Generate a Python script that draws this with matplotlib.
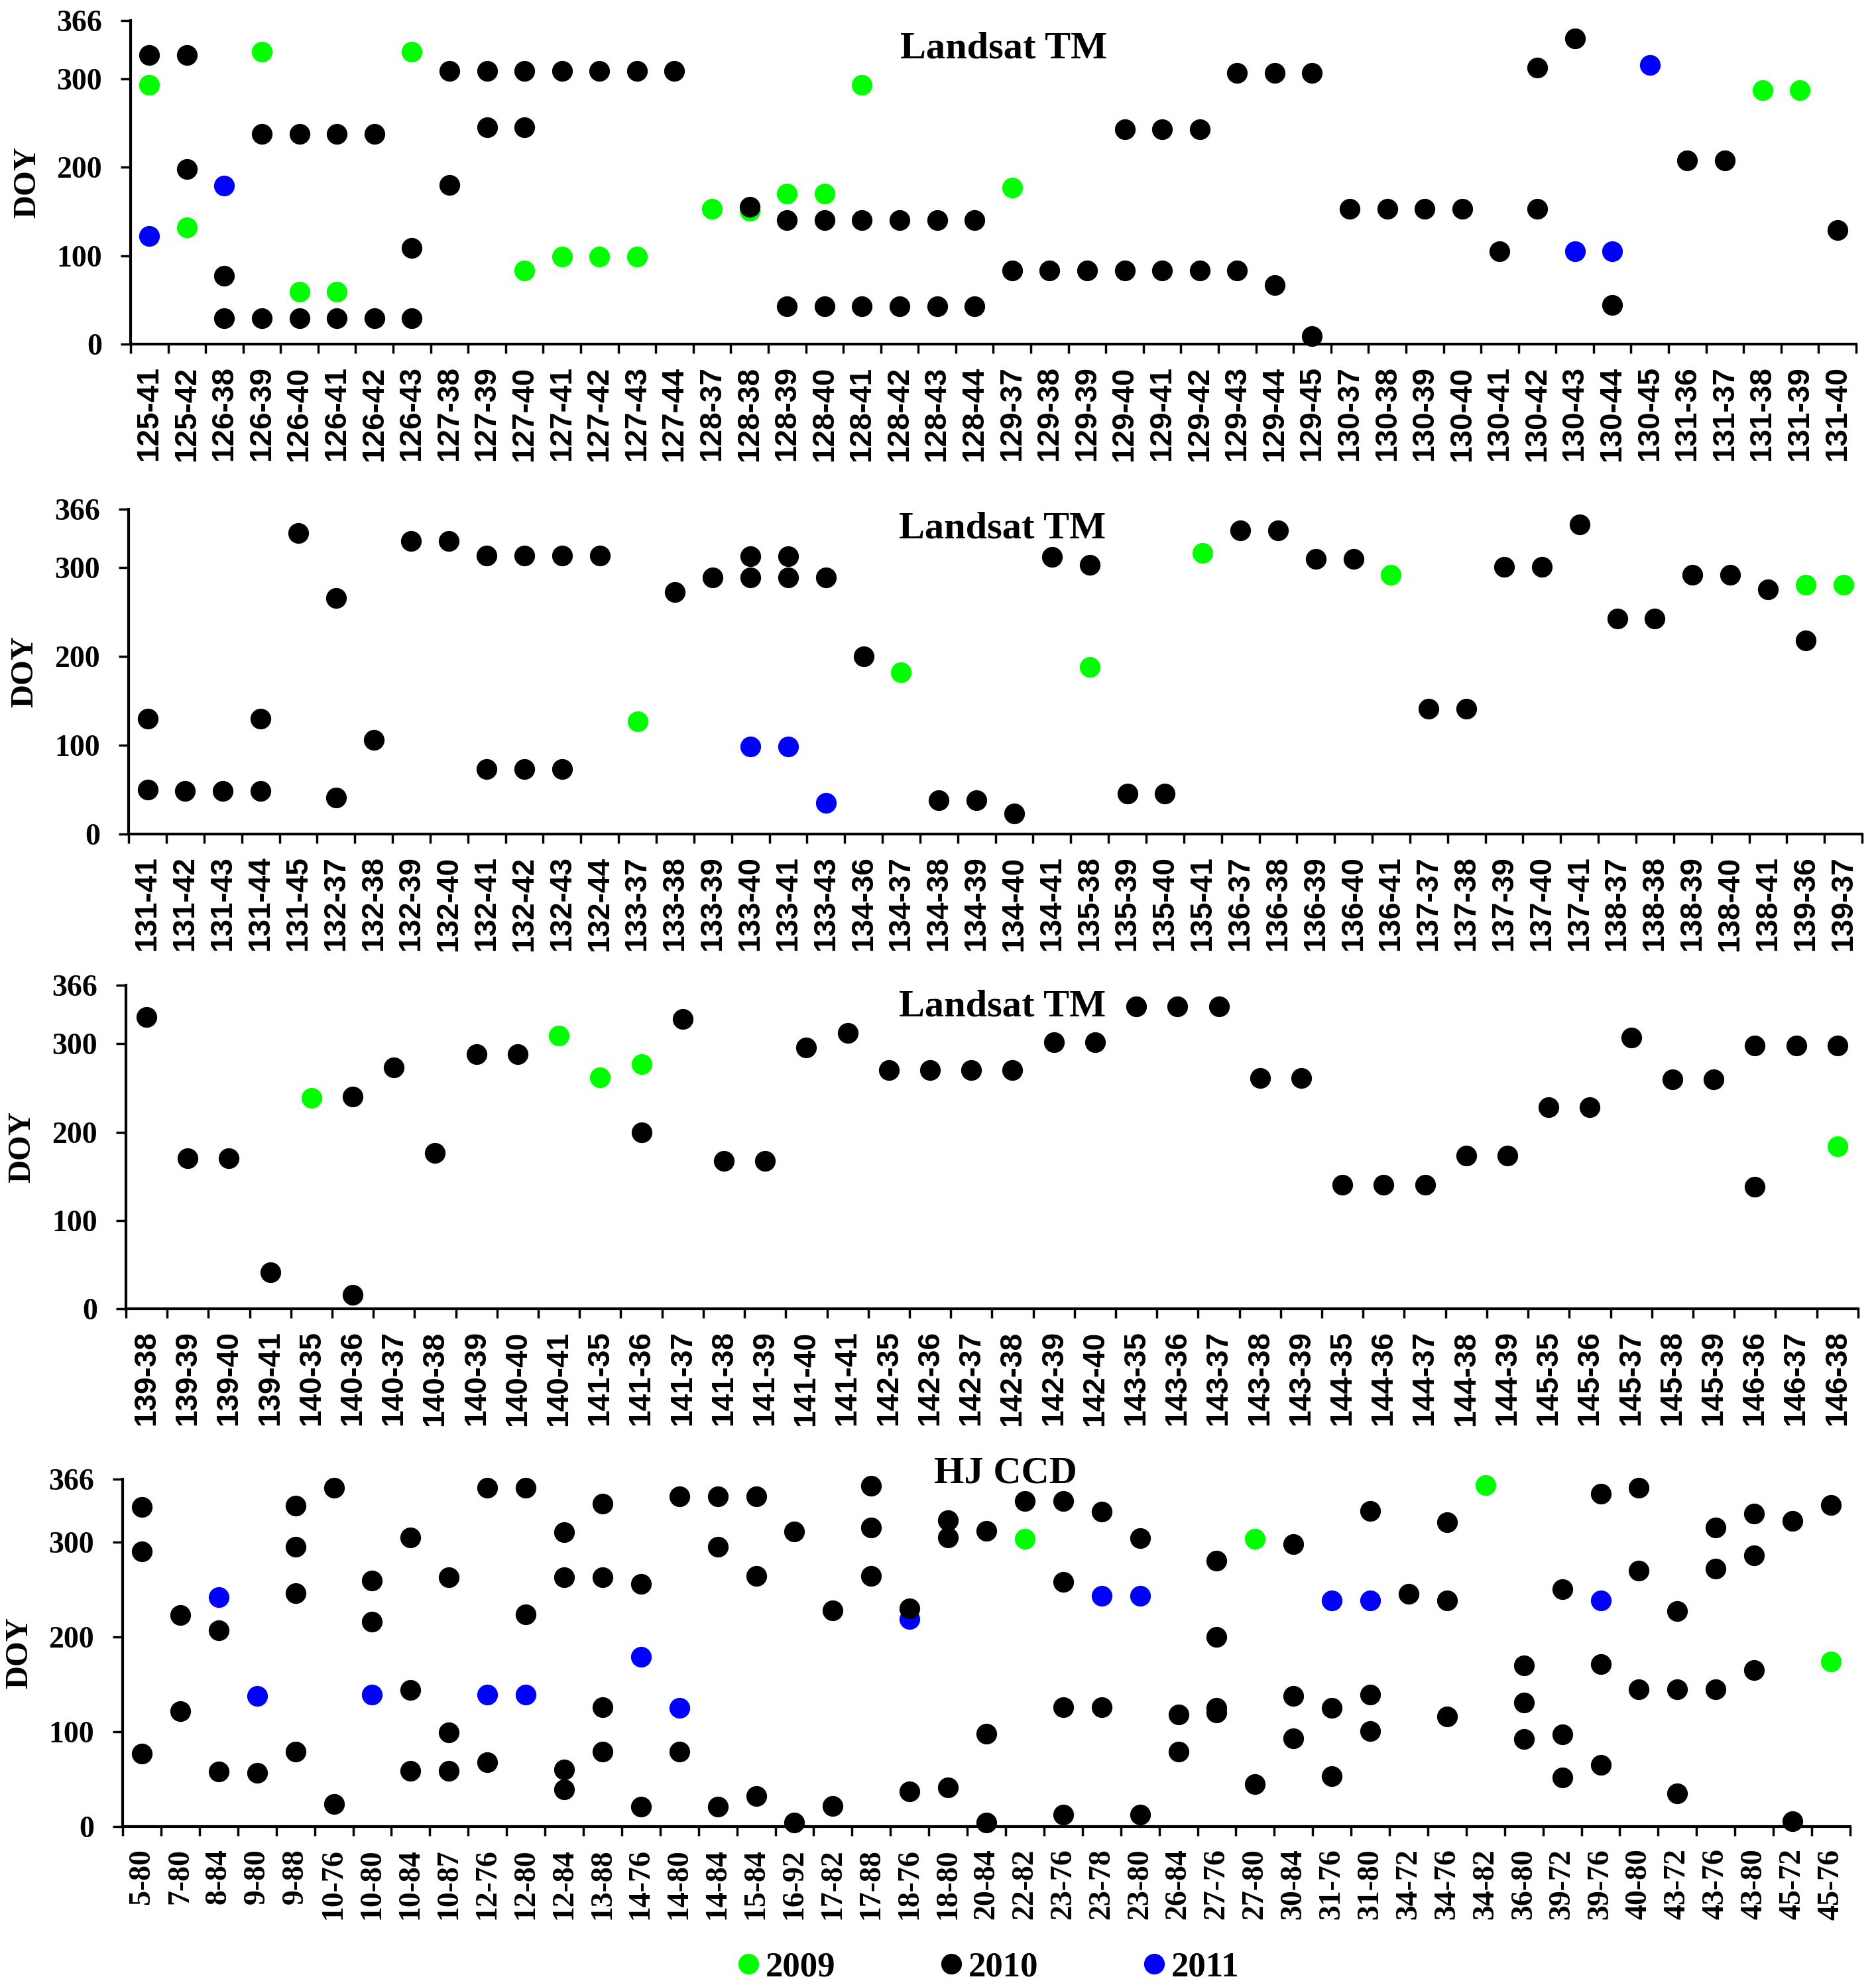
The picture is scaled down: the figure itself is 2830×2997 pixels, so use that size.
import numpy as np
import matplotlib.pyplot as plt
from matplotlib.lines import Line2D

plt.rcParams['font.family'] = ['Liberation Serif', 'DejaVu Serif']
plt.rcParams['font.weight'] = 'bold'

# ---------------- data ----------------
# panel 1: Landsat TM
tm1_cats = ["125-41", "125-42", "126-38", "126-39", "126-40", "126-41", "126-42", "126-43",
            "127-38", "127-39", "127-40", "127-41", "127-42", "127-43", "127-44",
            "128-37", "128-38", "128-39", "128-40", "128-41", "128-42", "128-43", "128-44",
            "129-37", "129-38", "129-39", "129-40", "129-41", "129-42", "129-43", "129-44", "129-45",
            "130-37", "130-38", "130-39", "130-40", "130-41", "130-42", "130-43", "130-44", "130-45",
            "131-36", "131-37", "131-38", "131-39", "131-40"]
tm1_2009 = [("125-41", 293), ("125-42", 132), ("126-39", 331), ("126-40", 59), ("126-41", 59),
            ("126-43", 331), ("127-40", 83), ("127-41", 99), ("127-42", 99), ("127-43", 99),
            ("128-37", 153), ("128-38", 151), ("128-39", 170), ("128-40", 170), ("128-41", 293),
            ("129-37", 177), ("131-38", 287), ("131-39", 287)]
tm1_2010 = [("125-41", 327), ("125-42", 327), ("125-42", 198), ("126-38", 77), ("126-38", 29),
            ("126-39", 238), ("126-39", 29), ("126-40", 238), ("126-40", 29), ("126-41", 238),
            ("126-41", 29), ("126-42", 238), ("126-42", 29), ("126-43", 109), ("126-43", 29),
            ("127-38", 309), ("127-38", 180), ("127-39", 309), ("127-39", 245), ("127-40", 309),
            ("127-40", 245), ("127-41", 309), ("127-42", 309), ("127-43", 309), ("127-44", 309),
            ("128-38", 155), ("128-39", 140), ("128-39", 43), ("128-40", 140), ("128-40", 43),
            ("128-41", 140), ("128-41", 43), ("128-42", 140), ("128-42", 43), ("128-43", 140),
            ("128-43", 43), ("128-44", 140), ("128-44", 43), ("129-37", 83), ("129-38", 83),
            ("129-39", 83), ("129-40", 243), ("129-40", 83), ("129-41", 243), ("129-41", 83),
            ("129-42", 243), ("129-42", 83), ("129-43", 307), ("129-43", 83), ("129-44", 307),
            ("129-44", 67), ("129-45", 307), ("129-45", 9), ("130-37", 153), ("130-38", 153),
            ("130-39", 153), ("130-40", 153), ("130-41", 105), ("130-42", 313), ("130-42", 153),
            ("130-43", 346), ("130-44", 44), ("131-36", 208), ("131-37", 208), ("131-40", 129)]
tm1_2011 = [("125-41", 122), ("126-38", 179), ("130-43", 105), ("130-44", 105), ("130-45", 316)]

# panel 2: Landsat TM
tm2_cats = ["131-41", "131-42", "131-43", "131-44", "131-45",
            "132-37", "132-38", "132-39", "132-40", "132-41", "132-42", "132-43", "132-44",
            "133-37", "133-38", "133-39", "133-40", "133-41", "133-43",
            "134-36", "134-37", "134-38", "134-39", "134-40", "134-41",
            "135-38", "135-39", "135-40", "135-41",
            "136-37", "136-38", "136-39", "136-40", "136-41",
            "137-37", "137-38", "137-39", "137-40", "137-41",
            "138-37", "138-38", "138-39", "138-40", "138-41",
            "139-36", "139-37"]
tm2_2009 = [("133-37", 127), ("134-37", 182), ("135-38", 188), ("135-41", 317), ("136-41", 292),
            ("139-36", 281), ("139-37", 281)]
tm2_2010 = [("131-41", 130), ("131-41", 50), ("131-42", 49), ("131-43", 49), ("131-44", 130),
            ("131-44", 49), ("131-45", 339), ("132-37", 266), ("132-37", 41), ("132-38", 106),
            ("132-39", 330), ("132-40", 330), ("132-41", 314), ("132-41", 73), ("132-42", 314),
            ("132-42", 73), ("132-43", 314), ("132-43", 73), ("132-44", 314), ("133-38", 273),
            ("133-39", 289), ("133-40", 313), ("133-40", 289), ("133-41", 313), ("133-41", 289),
            ("133-43", 289), ("134-36", 200), ("134-38", 38), ("134-39", 38), ("134-40", 23),
            ("134-41", 312), ("135-38", 303), ("135-39", 46), ("135-40", 46), ("136-37", 342),
            ("136-38", 342), ("136-39", 310), ("136-40", 310), ("137-37", 141), ("137-38", 141),
            ("137-39", 301), ("137-40", 301), ("137-41", 349), ("138-37", 243), ("138-38", 243),
            ("138-39", 292), ("138-40", 292), ("138-41", 276), ("139-36", 218)]
tm2_2011 = [("133-40", 99), ("133-41", 99), ("133-43", 35)]

# panel 3: Landsat TM
tm3_cats = ["139-38", "139-39", "139-40", "139-41",
            "140-35", "140-36", "140-37", "140-38", "140-39", "140-40", "140-41",
            "141-35", "141-36", "141-37", "141-38", "141-39", "141-40", "141-41",
            "142-35", "142-36", "142-37", "142-38", "142-39", "142-40",
            "143-35", "143-36", "143-37", "143-38", "143-39",
            "144-35", "144-36", "144-37", "144-38", "144-39",
            "145-35", "145-36", "145-37", "145-38", "145-39",
            "146-36", "146-37", "146-38"]
tm3_2009 = [("140-35", 239), ("140-41", 309), ("141-35", 262), ("141-36", 277), ("146-38", 184)]
tm3_2010 = [("139-38", 330), ("139-39", 170), ("139-40", 170), ("139-41", 41), ("140-36", 240),
            ("140-36", 16), ("140-37", 273), ("140-38", 176), ("140-39", 288), ("140-40", 288),
            ("141-36", 200), ("141-37", 328), ("141-38", 167), ("141-39", 167), ("141-40", 296),
            ("141-41", 312), ("142-35", 270), ("142-36", 270), ("142-37", 270), ("142-38", 270),
            ("142-39", 302), ("142-40", 302), ("143-35", 342), ("143-36", 342), ("143-37", 342),
            ("143-38", 261), ("143-39", 261), ("144-35", 140), ("144-36", 140), ("144-37", 140),
            ("144-38", 173), ("144-39", 173), ("145-35", 228), ("145-36", 228), ("145-37", 307),
            ("145-38", 260), ("145-39", 260), ("146-36", 298), ("146-36", 138), ("146-37", 298),
            ("146-38", 298)]
tm3_2011 = []

# panel 4: HJ CCD
hj_cats = ["5-80", "7-80", "8-84", "9-80", "9-88", "10-76", "10-80", "10-84", "10-87",
           "12-76", "12-80", "12-84", "13-88", "14-76", "14-80", "14-84", "15-84", "16-92",
           "17-82", "17-88", "18-76", "18-80", "20-84", "22-82", "23-76", "23-78", "23-80",
           "26-84", "27-76", "27-80", "30-84", "31-76", "31-80", "34-72", "34-76", "34-82",
           "36-80", "39-72", "39-76", "40-80", "43-72", "43-76", "43-80", "45-72", "45-76"]
hj_2009 = [("22-82", 303), ("27-80", 303), ("34-82", 360), ("45-76", 174)]
hj_2010 = [("5-80", 337), ("5-80", 290), ("5-80", 77), ("7-80", 223), ("7-80", 122),
           ("8-84", 207), ("8-84", 58), ("9-80", 57), ("9-88", 338), ("9-88", 295), ("9-88", 246),
           ("9-88", 79), ("10-76", 357), ("10-76", 24), ("10-80", 259), ("10-80", 216),
           ("10-84", 305), ("10-84", 144), ("10-84", 59), ("10-87", 263), ("10-87", 99),
           ("10-87", 59), ("12-76", 357), ("12-76", 68), ("12-80", 357), ("12-80", 224),
           ("12-84", 310), ("12-84", 263), ("12-84", 60), ("12-84", 39), ("13-88", 340),
           ("13-88", 263), ("13-88", 126), ("13-88", 79), ("14-76", 256), ("14-76", 21),
           ("14-80", 348), ("14-80", 79), ("14-84", 348), ("14-84", 295), ("14-84", 21),
           ("15-84", 348), ("15-84", 264), ("15-84", 32), ("16-92", 311), ("16-92", 4),
           ("17-82", 228), ("17-82", 22), ("17-88", 359), ("17-88", 315), ("17-88", 264),
           ("18-76", 230), ("18-76", 37), ("18-80", 323), ("18-80", 305), ("18-80", 41),
           ("20-84", 312), ("20-84", 98), ("20-84", 4), ("22-82", 343), ("23-76", 343),
           ("23-76", 258), ("23-76", 126), ("23-76", 13), ("23-78", 332), ("23-78", 126),
           ("23-80", 304), ("23-80", 13), ("26-84", 118), ("26-84", 79), ("27-76", 280),
           ("27-76", 200), ("27-76", 125), ("27-76", 120), ("27-80", 45), ("30-84", 298),
           ("30-84", 138), ("30-84", 93), ("31-76", 125), ("31-76", 53), ("31-80", 333),
           ("31-80", 139), ("31-80", 101), ("34-72", 245), ("34-76", 321), ("34-76", 238),
           ("34-76", 116), ("36-80", 170), ("36-80", 131), ("36-80", 92), ("39-72", 250),
           ("39-72", 97), ("39-72", 52), ("39-76", 351), ("39-76", 171), ("39-76", 65),
           ("40-80", 357), ("40-80", 270), ("40-80", 145), ("43-72", 227), ("43-72", 145),
           ("43-72", 35), ("43-76", 315), ("43-76", 272), ("43-76", 145), ("43-80", 330),
           ("43-80", 286), ("43-80", 165), ("45-72", 322), ("45-72", 6), ("45-76", 339)]
hj_2011 = [("8-84", 242), ("9-80", 138), ("10-80", 139), ("12-76", 139), ("12-80", 139),
           ("14-76", 179), ("14-80", 125), ("18-76", 219), ("23-78", 243), ("23-80", 243),
           ("31-76", 238), ("31-80", 238), ("39-76", 238)]

years = ["2009", "2010", "2011"]
colors = {"2009": "#00FF00", "2010": "#000000", "2011": "#0000FF"}
zorders = {"2009": 3, "2010": 5, "2011": 4}

yticks = [0, 100, 200, 300, 366]
MS = 22.5


def draw_panel(ax, cats, series, title, tx, ty, xfont):
    # register category order on the x axis
    ax.plot(cats, np.full(len(cats), np.nan), linestyle='none')
    for year, pts in zip(years, series):
        if not pts:
            continue
        xs = [p[0] for p in pts]
        ys = [p[1] for p in pts]
        ax.plot(xs, ys, 'o', color=colors[year], ms=MS, mec='none',
                zorder=zorders[year], clip_on=False)
    n = len(cats)
    ax.set_xlim(-0.5, n - 0.5)
    ax.set_ylim(0, 366)
    ax.set_yticks(yticks)
    ax.set_xticks(range(n))
    ax.set_xticklabels(cats, rotation=90, family=xfont, fontweight='bold', fontsize=33)
    ax.set_xticks(np.arange(n + 1) - 0.5, minor=True)
    ax.tick_params(axis='x', which='major', length=0, pad=24)
    ax.tick_params(axis='x', which='minor', length=10, width=2.5, direction='out')
    ax.tick_params(axis='y', length=11, width=2.5, direction='out', pad=20, labelsize=33)
    for s in ['top', 'right']:
        ax.spines[s].set_visible(False)
    for s in ['left', 'bottom']:
        ax.spines[s].set_linewidth(3)
    ax.text(-0.06, 0.5, 'DOY', transform=ax.transAxes, rotation=90,
            ha='center', va='center', fontsize=35, fontweight='bold')
    ax.text(tx, ty, title, transform=ax.transAxes, ha='center', va='top',
            fontsize=42, fontweight='bold')


fig = plt.figure(figsize=(28.3, 29.97), dpi=100)
sans = ['Liberation Sans', 'DejaVu Sans']
serif = ['Liberation Serif', 'DejaVu Serif']

ax1 = fig.add_axes([0.0696, 0.8268, 0.9198, 0.1628])
draw_panel(ax1, tm1_cats, [tm1_2009, tm1_2010, tm1_2011], 'Landsat TM', 0.506, 0.967, sans)

ax2 = fig.add_axes([0.0686, 0.5802, 0.9240, 0.1635])
draw_panel(ax2, tm2_cats, [tm2_2009, tm2_2010, tm2_2011], 'Landsat TM', 0.504, 0.994, sans)

ax3 = fig.add_axes([0.0671, 0.3413, 0.9233, 0.1628])
draw_panel(ax3, tm3_cats, [tm3_2009, tm3_2010, tm3_2011], 'Landsat TM', 0.506, 0.988, sans)

ax4 = fig.add_axes([0.0654, 0.0807, 0.9208, 0.1748])
draw_panel(ax4, hj_cats, [hj_2009, hj_2010, hj_2011], 'HJ CCD', 0.511, 1.067, serif)

handles = [Line2D([], [], linestyle='none', marker='o', ms=MS, mec='none', color=colors[y])
           for y in years]
fig.legend(handles, years, loc='center', bbox_to_anchor=(0.526, 0.0097), ncol=3,
           frameon=False, handlelength=0.8, handletextpad=0.1, columnspacing=2.9,
           prop={'family': serif, 'weight': 'bold', 'size': 38})

plt.savefig('out.png', dpi=100)
